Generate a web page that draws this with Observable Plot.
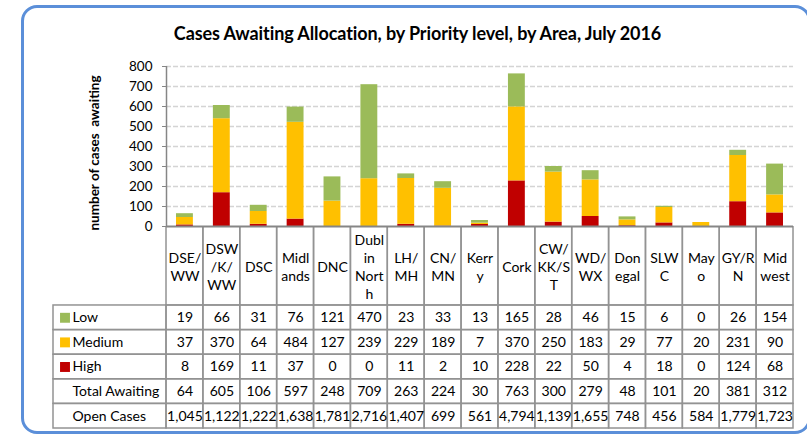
<!DOCTYPE html>
<html>
<head>
<meta charset="utf-8">
<script src="https://cdn.jsdelivr.net/npm/d3@7"></script>
<script src="https://cdn.jsdelivr.net/npm/@observablehq/plot@0.6"></script>
<style>
  body { margin: 0; background: #fff; }
  #wrap { position: relative; width: 807px; height: 438px; overflow: hidden; background: #fff; font-family: Lato, "Open Sans", sans-serif; }
  #title { position: absolute; left: 0; width: 835px; top: 22px; text-align: center; font: bold 18px Lato, sans-serif; color: #000; letter-spacing: -0.1px; }
  .layer { position: absolute; left: 0; }
  #border { position: absolute; left: 21px; top: 5px; width: 790px; height: 429px; box-sizing: border-box;
            border: 3.5px solid #5B8FD9; border-radius: 16px; pointer-events: none; }
</style>
</head>
<body>
<div id="wrap">
  <div id="title">Cases Awaiting Allocation, by Priority level, by Area, July 2016</div>
  <div id="table" class="layer" style="top:226px"></div>
  <div id="chart" class="layer" style="top:0"></div>
  <div id="border"></div>
</div>
<script>
// ---- data ----
const categories = ["DSE/WW","DSW/K/WW","DSC","Midlands","DNC","Dublin North","LH/MH","CN/MN","Kerry","Cork","CW/KK/ST","WD/WX","Donegal","SLWC","Mayo","GY/RN","Midwest"];
const tickLabels = ["DSE/\nWW","DSW\n/K/\nWW","DSC","Midl\nands","DNC","Dubl\nin\nNort\nh","LH/\nMH","CN/\nMN","Kerr\ny","Cork","CW/\nKK/S\nT","WD/\nWX","Don\negal","SLW\nC","May\no","GY/R\nN","Mid\nwest"];
const low    = [19, 66, 31, 76, 121, 470, 23, 33, 13, 165, 28, 46, 15, 6, 0, 26, 154];
const medium = [37, 370, 64, 484, 127, 239, 229, 189, 7, 370, 250, 183, 29, 77, 20, 231, 90];
const high   = [8, 169, 11, 37, 0, 0, 11, 2, 10, 228, 22, 50, 4, 18, 0, 124, 68];
const totalAwaiting = [64, 605, 106, 597, 248, 709, 263, 224, 30, 763, 300, 279, 48, 101, 20, 381, 312];
const openCases = [1045, 1122, 1222, 1638, 1781, 2716, 1407, 699, 561, 4794, 1139, 1655, 748, 456, 584, 1779, 1723];
const levels = ["High", "Medium", "Low"];
const levelColors = ["#C00000", "#FFC000", "#9BBB59"];
const yTicks = [0, 100, 200, 300, 400, 500, 600, 700, 800];
const rowNames = ["Low", "Medium", "High", "Total Awaiting", "Open Cases"];
const yLabel = "number of cases  awaiting";

// ---- derived tables ----
const levelValues = {High: high, Medium: medium, Low: low};
const segments = [];
categories.forEach((c, i) => {
  let acc = 0;
  for (const lv of levels) {
    const v = levelValues[lv][i];
    segments.push({area: c, i, level: lv, y1: acc, y2: acc + v});
    acc += v;
  }
});
const rowValues = [low, medium, high, totalAwaiting, openCases];
const cells = rowNames.flatMap((r, ri) => categories.map((c, ci) => ({row: r, ri, ci, v: rowValues[ri][ci]})));
const fmt = d3.format(",");

const N = categories.length;
const HEADER = 3.21;      // header row height, in row units
const LABELCOLS = 3.064;  // label column width, in category-column units
const font = "Lato, 'Open Sans', sans-serif";
const gridGray = "#939393";

// ---- chart ----
const chart = Plot.plot({
  width: 807, height: 240,
  marginLeft: 166, marginRight: 14, marginTop: 66, marginBottom: 14,
  style: {background: "transparent", fontFamily: font, overflow: "visible"},
  x: {domain: [0, N], axis: null},
  y: {domain: [0, 800], axis: null},
  color: {domain: levels, range: levelColors},
  marks: [
    Plot.ruleY(yTicks.filter(d => d > 0), {x1: 0, x2: N, stroke: "#d4d4d4", strokeWidth: 1.5, strokeDasharray: "5,2"}),
    Plot.rect(segments, {x1: "i", x2: d => d.i + 1, y1: "y1", y2: "y2", fill: "level", insetLeft: 10, insetRight: 10}),
    Plot.axisY({ticks: yTicks, tickSize: 4, tickPadding: 10, fontSize: 13.5, fontFamily: font, stroke: "#868686", color: "#000", label: null}),
    Plot.ruleX([0], {y1: 0, y2: 800, stroke: "#868686", strokeWidth: 1.5}),
    Plot.ruleY([0], {x1: 0, x2: N, stroke: "#868686", strokeWidth: 2}),
    Plot.text([yLabel], {frameAnchor: "left", textAnchor: "middle", rotate: -90, dx: -72, dy: 6.5,
      fontFamily: font, fontWeight: "bold", fontSize: 13.5, fill: "#000"})
  ]
});
document.getElementById("chart").append(chart);

// ---- data table ----
const table = Plot.plot({
  width: 807, height: 212,
  marginLeft: 53, marginRight: 14, marginTop: 0, marginBottom: 10,
  style: {background: "transparent", fontFamily: font},
  x: {domain: [-LABELCOLS, N], axis: null},
  y: {domain: [HEADER + rowNames.length, 0], axis: null},
  color: {domain: levels, range: levelColors},
  marks: [
    Plot.rect(categories, {x1: (d, i) => i, x2: (d, i) => i + 1, y1: 0, y2: HEADER, fill: "none", stroke: gridGray, strokeWidth: 1.5}),
    Plot.rect(rowNames, {x1: -LABELCOLS, x2: 0, y1: (d, i) => HEADER + i, y2: (d, i) => HEADER + i + 1, fill: "none", stroke: gridGray, strokeWidth: 1.5}),
    Plot.rect(cells, {x1: "ci", x2: d => d.ci + 1, y1: d => HEADER + d.ri, y2: d => HEADER + d.ri + 1, fill: "none", stroke: gridGray, strokeWidth: 1.5}),
    Plot.text(categories, {x: (d, i) => i + 0.5, y: HEADER / 2, text: (d, i) => tickLabels[i], fontSize: 14, lineHeight: 1.29, fill: "#000"}),
    Plot.text(cells, {x: d => d.ci + 0.5, y: d => HEADER + d.ri + 0.5, text: d => fmt(d.v), fontSize: 14, fill: "#000"}),
    Plot.dot(levels.slice().reverse(), {x: -LABELCOLS, y: (d, i) => HEADER + i + 0.5, fill: d => d, symbol: "square", r: 5.6, dx: 11.5}),
    Plot.text(rowNames, {x: -LABELCOLS, y: (d, i) => HEADER + i + 0.5, text: d => d, textAnchor: "start", dx: 19, fontSize: 14, fill: "#000"})
  ]
});
document.getElementById("table").append(table);
</script>
</body>
</html>
